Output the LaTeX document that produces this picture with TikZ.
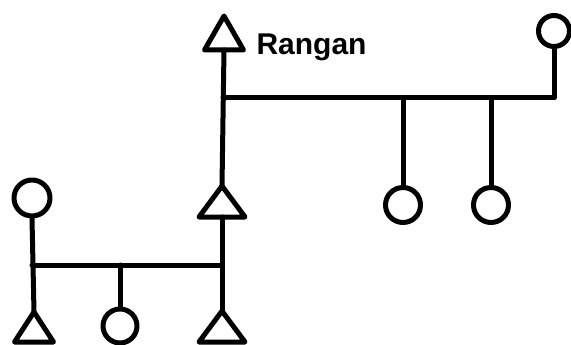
\documentclass[tikz,border=0pt]{standalone}
\usepackage{fontspec}
\setmainfont{Liberation Sans}
\begin{document}
\begin{tikzpicture}[x=1pt,y=-1pt,line width=5pt,line cap=round,line join=round,
  pics/male/.style 2 args={code={
    \coordinate (-b) at (0,0);
    \coordinate (-a) at (0,{-#2});
    \draw ({-0.5*#1},0) -- (0,{-#2}) -- ({0.5*#1},0) -- cycle;
  }},
  female/.style={draw,circle,inner sep=0pt,minimum size=#1},
  female/.default=35pt]
\useasboundingbox (0,0) rectangle (571,345);
\clip (0,0) rectangle (571,345);
% individuals
\pic (T1) at (224,50) {male={39}{34}};
\pic (T2) at (222,217) {male={46}{31}};
\pic (T3) at (222,342) {male={46}{31}};
\pic (T4) at (34,342) {male={39}{30}};
\node[female=31pt] (C1) at (554,31) {};
\node[female] (C2) at (403,205) {};
\node[female] (C3) at (491,205) {};
\node[female=36pt] (C4) at (32,198) {};
\node[female=34pt] (C5) at (120,326) {};
\node[anchor=base west,font=\bfseries\fontsize{30}{30}\selectfont,inner sep=0pt] (lab) at (254,55) {Rangan};
% marriage line top
\coordinate (m1) at (223,98);
\coordinate (m2) at (554,98);
\draw (T1-b) -- (T2-a);
\draw (m1) -- (m2) -- (C1.south);
\draw (C2.north) -- (C2.north |- m1);
\draw (C3.north) -- (C3.north |- m1);
% marriage line bottom
\coordinate (n1) at (32,265);
\coordinate (n2) at (222,265);
\draw (T2-b) -- (T3-a);
\draw (C4.south) -- (T4-a);
\draw (n1) -- (n2);
\draw (C5.north) -- (C5.north |- n1);
\end{tikzpicture}
\end{document}
